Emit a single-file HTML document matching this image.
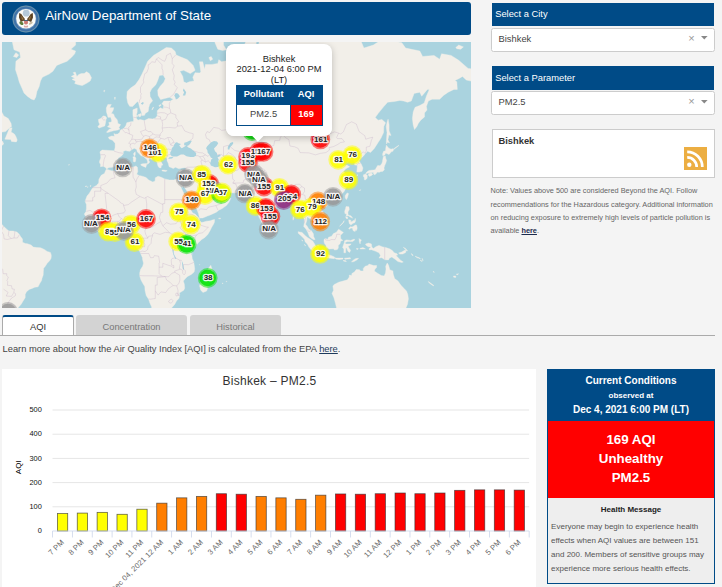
<!DOCTYPE html>
<html>
<head>
<meta charset="utf-8">
<title>AirNow Department of State</title>
<style>
html,body{margin:0;padding:0;}
body{width:722px;height:587px;overflow:hidden;background:#f4f4f4;font-family:"Liberation Sans",sans-serif;position:relative;color:#333;}
.abs{position:absolute;}
#hdr{left:2px;top:2px;width:469px;height:33px;background:#004b87;border-radius:3px;}
#hdr .t{position:absolute;left:43.2px;top:0;line-height:28.6px;font-size:13.33px;color:#fff;white-space:nowrap;}
#map{left:2px;top:42px;width:469px;height:266px;background:#aad3df;overflow:hidden;}
.bar{left:492px;width:222px;height:23px;background:#004b87;color:#fff;font-size:9.33px;line-height:12px;}
.bar span{position:absolute;left:3.2px;top:5px;white-space:nowrap;}
.sel{left:491.4px;width:221.8px;height:22px;background:#fff;border:1px solid #ccc;border-radius:2.5px;font-size:9.33px;line-height:21px;color:#444;}
.sel span{position:absolute;left:6.2px;}
.sel i{position:absolute;font-style:normal;color:#999;}
#cbox{left:491.5px;top:129px;width:221.5px;height:46.8px;background:#fff;border:1px solid #ccc;}
#cbox b{position:absolute;left:6px;top:4.8px;font-size:9.33px;color:#333;line-height:12px;}
#note{left:490.5px;top:183.9px;width:228px;font-size:7.33px;line-height:13.3px;color:#666;white-space:nowrap;}
#note span{position:absolute;left:0;white-space:nowrap}
#note a,#learn a{color:#1c2b4d;font-weight:bold;text-decoration:underline;}
.tab{top:315px;height:19.5px;background:#d3d3d3;border-radius:3px 3px 0 0;font-size:9.33px;line-height:24px;text-align:center;color:#777;}
#tab1{left:2px;width:70px;background:#fff;border:1px solid #aaa;border-top:2px solid #004b87;border-bottom:none;height:18.5px;color:#333;line-height:20px;}
#tabline{left:0;top:335px;width:715px;height:1px;background:#aaa;}
#learn{left:2.5px;top:343px;font-size:9.33px;line-height:12px;color:#444;white-space:nowrap;}
#learn a{font-weight:normal;color:#1d3a5c;}
#chart{left:2px;top:369px;width:533.5px;height:218px;background:#fff;}
#cond{left:547px;top:369px;width:166px;height:212.5px;border:1px solid #004b87;background:#eee;}
#cond .h{position:absolute;left:0;top:0;width:166px;height:51px;background:#004b87;color:#fff;text-align:center;font-weight:bold;}
#cond .r{position:absolute;left:0;top:51px;width:166px;height:77px;background:#ff0000;color:#fff;text-align:center;font-weight:bold;font-size:13.33px;line-height:19.2px;}
</style>
</head>
<body>
<div id="hdr" class="abs"><svg style="position:absolute;left:9.65px;top:2.5px" width="28" height="28" viewBox="0 0 28 28">
<circle cx="14" cy="14" r="13.6" fill="#3f72a8"/><circle cx="14" cy="14" r="13" fill="none" stroke="#8fb0ad" stroke-width="0.7" stroke-opacity="0.75"/>
<circle cx="14" cy="14" r="10.5" fill="#6b93bd"/>
<circle cx="14" cy="13.8" r="9.8" fill="#fbfbf7"/>
<circle cx="14.2" cy="8.2" r="3.4" fill="#b5c9d9"/>
<path d="M12.4 15.6L8.8 17L7 12.6L7.2 7.9L9.3 9.1L11.3 12L13 13.9Z" fill="#5d4324"/>
<path d="M15.6 15.6L19.2 17L21 12.6L20.8 7.9L18.7 9.1L16.7 12L15 13.9Z" fill="#5d4324"/>
<path d="M9 10.5L11.8 14.2L10 14.8Z M19 10.5L16.2 14.2L18 14.8Z" fill="#9a7a45"/>
<ellipse cx="9.4" cy="18.2" rx="2.3" ry="1.5" transform="rotate(35 9.4 18.2)" fill="#5f7d3c"/>
<ellipse cx="18.8" cy="18.2" rx="2.2" ry="1.1" transform="rotate(-35 18.8 18.2)" fill="#cdbda2"/>
<path d="M12.1 15.2h3.8v3.3q-1.9 2-3.8 0z" fill="#cc7873"/>
<rect x="12.1" y="14.9" width="3.8" height="1.1" fill="#34506a"/>
<circle cx="14" cy="13.9" r="1.25" fill="#fff"/>
<path d="M12.3 20.3q1.7 1.6 3.4 0l.5 1.6q-2.2 1.2-4.4 0z" fill="#dba9a8"/>
</svg><div class="t">AirNow Department of State</div></div>
<div id="map" class="abs"><svg width="469" height="266" viewBox="0 0 469 266" style="position:absolute;left:0;top:0" font-family="Liberation Sans, sans-serif">
<rect width="469" height="266" fill="#aad3df"/>
<path d="M9.1 -6.2L11.0 3.1L12.0 7.8L17.7 10.1L18.6 15.6L13.9 19.3L13.5 27.8L15.8 34.8L17.3 40.2L19.9 46.1L22.0 51.0L25.3 54.2L29.1 56.9L32.1 58.0L33.8 54.9L34.9 49.4L37.2 44.5L38.5 38.9L40.4 35.3L44.0 33.5L47.1 32.1L50.9 29.3L54.7 23.4L59.4 21.4L65.1 19.3L69.8 15.1L72.7 11.8L73.6 9.0L68.9 7.3L73.6 3.1L73.6 -6.2Z M69.3 34.4L72.7 32.5L71.1 30.7L73.2 30.0L74.9 34.4L76.8 32.5L79.3 31.6L82.1 31.6L84.6 29.7L87.3 31.6L89.5 35.8L88.2 38.9L85.0 41.1L80.3 43.6L76.5 42.8L72.7 41.5L73.6 39.3L70.0 37.3L73.0 36.2Z M2.9 97.2L6.3 89.0L7.6 86.3L10.1 85.7L9.1 89.9L12.4 92.0L13.9 94.6L15.2 98.0L14.3 99.9L9.5 99.4L8.8 97.4Z M-7.9 57.2L-7.0 56.1L-3.2 63.5L-0.9 68.8L1.9 73.9L6.3 76.6L9.1 81.4L9.5 84.5L7.2 86.3L3.5 89.6L-1.3 90.2L-7.9 89.9Z M-7.9 108.5L-5.1 105.9L-0.3 103.8L1.7 101.9L0.6 99.1L-2.2 102.1L-7.9 103.2Z M-7.9 179.3L-2.2 179.9L-0.3 182.2L1.6 184.2L4.4 187.0L6.9 188.9L11.0 189.1L14.8 189.9L17.3 192.2L18.6 194.6L20.5 197.1L20.5 200.3L23.4 201.5L25.3 201.7L29.1 203.0L31.3 205.1L34.7 205.6L38.5 205.8L42.3 207.4L45.2 209.4L48.4 210.4L49.2 212.7L49.3 214.2L49.0 216.5L47.6 218.8L45.2 221.3L43.3 224.2L41.6 226.2L41.4 229.1L41.2 233.1L40.1 236.0L39.5 238.7L38.0 241.1L36.1 244.8L32.8 245.2L30.0 246.4L27.2 247.4L24.3 249.9L23.2 252.5L23.2 255.7L21.1 258.9L19.2 262.2L16.7 265.1L13.9 269.0L9.1 271.3L-7.9 271.3Z M103.6 80.4L104.0 77.5L104.7 75.9L103.4 74.3L101.1 73.9L99.2 76.2L96.4 77.5L96.7 80.1L97.7 82.3L95.8 84.8L97.1 86.0L99.8 85.1L102.8 83.9Z M105.5 90.5L108.7 89.6L111.5 88.7L115.7 88.1L118.0 86.9L116.7 86.0L118.6 82.6L115.9 81.4L115.7 79.5L115.0 77.5L112.7 74.9L111.5 71.9L109.3 71.6L111.2 68.1L111.7 65.7L107.7 65.7L109.3 62.4L105.9 62.4L104.3 66.0L104.5 69.9L105.5 73.3L106.0 75.3L108.7 75.3L109.6 78.2L109.5 80.1L106.8 80.4L107.4 82.9L105.5 84.8L108.7 86.0L109.6 86.6L107.2 87.2L104.5 90.2Z M164.3 5.5L157.1 10.1L151.4 13.4L145.7 19.3L142.8 25.9L140.0 32.1L137.1 37.6L133.3 42.8L128.6 46.1L125.2 49.4L124.8 55.7L125.8 61.0L127.7 64.3L130.5 64.6L133.3 61.7L135.4 59.5L136.6 61.0L137.7 65.7L139.6 70.9L139.8 73.6L142.5 73.3L143.4 71.2L146.2 69.5L146.8 65.3L147.8 62.1L150.6 58.8L148.1 54.6L147.9 50.6L149.5 47.0L153.8 42.8L155.7 38.4L157.4 33.5L161.2 33.0L163.3 36.7L161.8 40.2L158.0 44.5L155.7 48.2L156.1 53.4L158.6 57.6L162.7 56.5L167.5 55.3L171.3 57.2L168.4 59.1L161.8 59.1L159.9 61.7L161.6 63.5L161.2 67.1L158.2 65.7L155.3 68.8L155.2 73.9L153.3 76.2L150.6 76.9L146.6 76.6L142.5 78.5L138.1 77.5L136.0 78.2L134.3 76.2L134.1 73.9L135.2 69.9L135.2 66.0L130.9 67.8L130.9 72.9L131.6 77.2L131.5 79.5L128.6 79.8L124.8 80.7L123.9 83.6L122.0 86.3L120.1 87.2L118.4 88.1L117.8 90.2L115.7 92.0L113.1 92.3L111.9 91.4L112.5 94.3L109.6 94.0L106.4 95.2L107.2 96.9L110.6 98.3L113.1 101.3L113.1 105.6L112.3 108.8L108.1 108.5L104.3 108.3L100.2 108.0L97.9 109.8L98.6 112.7L98.8 116.0L97.5 119.2L97.5 120.6L98.6 122.6L98.5 124.7L101.3 124.2L103.4 125.4L104.7 127.1L107.0 125.4L111.2 125.2L114.0 123.3L115.5 120.6L114.8 118.7L116.9 115.5L119.5 113.9L121.4 111.7L121.2 109.6L123.3 108.5L125.6 109.1L127.8 109.3L129.6 107.8L132.2 106.2L134.7 107.5L135.2 109.8L137.5 111.9L139.0 113.7L141.5 114.4L142.5 115.5L144.9 117.4L145.7 119.9L145.1 122.3L146.6 121.4L147.8 119.9L146.6 118.2L147.6 116.2L150.2 117.7L149.8 116.0L147.4 114.7L145.7 112.7L143.8 112.4L141.9 110.4L140.9 108.3L138.8 106.7L138.7 103.8L141.1 102.7L141.1 104.6L142.8 104.0L144.2 106.7L146.6 108.5L149.7 110.9L152.1 112.9L152.1 116.0L153.3 118.2L155.2 120.6L155.7 123.3L156.7 125.2L158.0 125.9L159.1 125.7L159.3 123.5L160.8 123.0L160.1 121.6L158.8 119.2L158.4 116.5L160.5 117.4L161.6 115.5L164.6 115.5L165.0 116.9L165.0 118.7L166.2 121.1L167.1 124.7L169.0 125.4L171.3 126.6L173.4 125.2L177.0 126.8L179.8 126.1L182.7 125.7L184.0 125.7L183.4 128.2L182.7 131.9L181.5 135.1L180.4 137.8L178.9 138.2L176.6 137.8L177.2 140.7L178.9 143.9L180.4 145.4L181.3 141.7L182.1 145.0L185.1 149.2L187.4 153.4L189.7 158.6L192.1 162.6L195.0 167.6L196.5 171.6L197.4 175.5L197.8 176.1L200.7 175.9L205.4 174.1L208.3 172.9L214.3 170.2L216.8 168.2L220.2 166.6L224.4 163.6L226.8 160.6L228.7 156.5L226.5 154.3L223.4 153.0L222.3 151.3L222.1 148.6L220.2 150.7L218.3 152.8L213.6 153.2L213.2 149.7L211.7 150.1L210.5 148.4L207.9 145.6L206.5 142.2L207.7 140.0L210.1 140.4L211.7 142.8L214.9 146.1L218.7 148.0L222.1 146.9L223.8 149.7L227.2 150.5L232.0 150.9L236.7 150.7L241.6 150.5L242.4 151.8L244.3 153.8L245.8 155.1L248.1 156.1L246.2 156.9L248.1 159.6L250.9 160.0L252.6 158.6L253.2 159.6L253.4 163.6L254.3 167.6L255.7 171.6L257.2 175.5L259.1 179.0L260.4 182.2L262.3 184.9L263.6 183.4L265.3 182.6L266.8 180.7L266.8 177.4L267.6 175.3L267.4 171.0L269.9 169.0L271.8 167.6L274.6 164.8L277.5 162.0L280.1 160.0L281.3 158.4L283.2 158.2L286.0 157.6L288.8 156.5L290.2 159.6L293.2 162.6L294.3 166.6L294.2 169.6L296.4 170.0L299.3 168.0L300.6 169.6L300.8 172.5L302.3 177.4L302.3 181.3L301.7 184.5L304.0 187.0L305.7 190.1L307.4 194.6L309.7 196.5L311.8 197.7L313.1 197.5L311.6 194.6L311.4 191.8L309.3 188.6L306.9 187.2L305.2 184.2L303.6 182.2L304.8 178.4L305.0 174.7L306.9 176.1L309.7 177.4L310.7 179.0L313.7 180.5L314.1 183.8L317.7 180.5L319.2 180.3L322.4 178.4L322.6 174.5L321.8 171.0L319.6 168.2L317.3 165.2L316.0 162.6L317.7 160.2L320.1 158.6L323.0 158.6L323.9 161.0L325.1 159.2L327.7 158.0L330.8 156.9L333.4 155.9L337.2 154.3L340.0 151.8L342.3 149.2L343.8 146.1L346.1 142.4L346.5 138.7L344.6 136.2L343.5 131.7L341.6 129.4L343.5 127.1L347.6 124.7L344.8 123.0L341.0 124.0L338.7 121.1L339.5 119.7L341.9 117.7L345.2 115.2L347.1 116.2L345.2 120.4L348.6 118.2L351.2 117.7L352.9 121.1L352.4 122.8L355.4 123.5L355.2 125.9L354.8 130.1L357.1 130.1L360.1 129.2L360.9 125.9L359.2 122.1L357.1 118.7L359.0 116.2L361.3 114.2L363.2 111.7L365.6 109.3L368.5 110.4L372.3 106.4L376.1 100.5L378.9 96.3L381.6 90.5L381.8 84.5L383.5 80.7L379.9 77.5L376.1 78.2L373.2 75.6L376.1 71.6L378.9 68.1L381.8 64.6L385.6 60.2L392.2 59.5L397.9 58.4L401.7 59.1L405.5 60.2L409.3 59.1L412.1 51.4L417.8 50.2L419.7 54.2L425.4 47.4L427.3 47.4L424.4 54.2L422.2 61.0L417.8 63.5L413.1 65.3L411.2 69.9L410.4 76.6L411.2 82.9L412.5 87.5L414.9 84.5L416.3 81.4L418.7 78.2L422.5 74.9L422.5 70.9L425.0 68.1L424.4 64.6L426.3 59.1L430.1 57.2L437.7 57.2L441.5 53.4L446.2 50.2L451.9 47.4L455.3 47.4L454.8 39.8L452.9 38.4L456.7 36.7L460.5 34.4L464.3 38.0L469.9 39.3L472.8 34.4L476.2 31.6L471.8 27.3L466.1 26.4L456.7 18.3L449.1 13.4L439.6 11.8L437.7 17.2L432.0 13.4L420.6 14.5L417.8 9.0L403.6 6.1L399.8 0.7L380.8 -3.0L371.3 3.1L361.9 6.1L358.1 -3.0L342.9 -6.2L329.6 -11.5L314.4 -35.7L280.3 -20.0L268.9 -9.5L267.0 0.1L262.3 -1.7L257.6 -3.0L256.6 3.1L254.7 11.8L255.3 19.8L252.8 18.8L253.4 9.0L254.3 0.1L251.9 -6.2L246.2 -6.2L242.4 3.1L242.0 11.8L245.2 19.8L240.5 18.3L236.7 15.6L230.1 12.9L227.2 18.3L219.6 19.8L216.8 17.7L215.8 21.4L210.1 22.4L203.5 22.4L202.6 27.3L200.7 19.8L197.4 19.8L198.8 29.7L197.8 31.1L193.1 30.7L190.8 35.3L192.1 38.9L187.4 39.8L184.5 41.1L181.7 39.8L180.8 34.4L177.9 29.3L181.7 28.3L188.3 31.6L193.1 28.3L191.2 23.4L185.5 17.7L178.9 15.1L174.1 12.9L173.2 9.5L169.4 6.1Z M176.6 137.8L174.1 137.3L171.8 138.0L167.5 138.0L162.7 136.9L159.3 135.3L156.1 134.2L153.3 135.8L153.1 138.9L150.8 140.0L146.6 138.0L144.2 135.6L140.4 134.2L137.1 133.5L134.7 132.2L135.8 129.4L135.4 125.2L133.9 124.0L131.5 125.0L126.7 125.0L121.0 125.2L116.3 126.8L112.5 128.9L109.6 128.7L105.3 127.5L104.1 127.5L102.4 131.5L99.2 133.3L96.9 137.3L96.7 141.1L94.1 143.7L90.9 145.4L88.8 148.8L87.3 151.3L85.0 154.1L83.1 159.2L84.4 162.6L84.4 166.6L84.0 169.6L82.3 172.1L83.7 174.5L83.7 176.8L85.9 179.3L87.5 180.7L89.7 182.4L90.7 184.3L93.1 187.0L95.0 188.4L98.3 190.8L100.9 192.0L104.9 190.8L107.7 190.5L110.6 190.8L113.4 190.3L116.3 189.3L118.2 188.7L121.8 188.2L123.9 188.6L125.4 190.8L127.1 192.2L129.6 191.8L131.5 191.4L132.8 192.9L133.9 194.6L133.7 196.9L133.2 199.4L132.0 201.7L133.3 204.1L135.2 206.4L137.7 209.3L138.7 211.7L140.4 215.6L140.6 217.5L141.5 221.3L140.7 224.2L138.5 227.5L137.7 231.1L137.7 234.0L139.0 238.0L140.9 241.5L142.8 244.6L143.0 248.3L144.2 253.5L146.6 257.2L147.9 261.1L149.5 264.4L150.2 269.0L152.3 270.8L157.1 269.4L162.7 269.2L166.5 268.5L169.4 266.2L172.8 262.2L174.5 258.9L177.0 256.3L177.7 252.5L177.3 251.0L181.7 248.3L182.7 246.2L182.3 242.1L181.3 239.1L183.2 236.8L185.5 234.4L189.3 232.5L192.1 230.1L192.7 227.1L192.1 222.3L191.8 220.2L190.2 216.5L189.9 213.6L188.9 212.1L189.3 209.8L190.2 208.3L191.8 205.5L194.0 203.6L196.3 200.7L199.7 197.5L202.9 195.4L205.8 192.4L207.9 188.9L209.8 185.1L211.5 182.2L212.4 180.3L212.6 177.6L211.1 177.8L208.3 178.8L204.5 179.2L201.6 180.1L199.7 180.5L197.4 178.4L197.3 176.6L195.5 174.5L193.1 172.1L190.6 171.0L189.3 168.6L188.0 165.6L186.3 163.6L185.7 159.6L185.1 157.6L182.8 153.6L181.3 150.3L179.6 146.7L177.2 140.9L177.0 138.5Z M208.8 223.3L210.5 229.1L211.1 230.9L209.8 232.9L209.0 235.0L207.9 239.1L206.4 244.1L204.6 249.1L201.0 250.4L198.8 248.3L197.6 244.1L198.4 241.1L199.5 238.7L198.8 235.0L199.5 231.7L202.6 230.5L205.0 228.7L206.4 226.6L207.9 224.4Z M266.8 181.9L268.6 183.2L270.5 186.1L270.3 188.0L268.2 189.0L267.0 188.4L266.7 186.1L266.7 184.2Z M296.1 189.7L300.2 190.5L302.5 193.1L305.5 195.6L307.8 196.9L310.7 199.0L312.2 201.3L313.5 203.7L316.3 206.0L316.0 211.4L313.7 211.4L309.3 207.9L306.9 205.1L305.5 202.2L303.1 199.8L302.5 197.3L299.7 194.3L296.4 191.4Z M314.8 213.3L316.5 211.5L319.2 212.1L321.3 213.1L324.9 213.4L325.8 212.5L329.0 213.4L332.5 215.0L332.3 216.7L328.7 216.3L323.9 215.7L320.1 215.2L317.1 214.4Z M332.5 215.7L334.7 216.1L336.6 216.1L341.0 216.1L341.0 217.1L337.2 217.5L333.8 217.1Z M342.5 216.3L348.2 215.7L348.6 216.7L342.9 217.3Z M349.5 220.0L351.4 217.9L353.9 216.5L356.5 216.3L355.2 217.7L352.0 219.6Z M341.0 218.4L343.5 218.6L344.4 219.6L341.9 219.2Z M322.0 197.5L323.2 196.5L325.8 197.3L326.6 195.2L329.6 194.3L331.5 191.6L334.4 190.3L336.6 187.2L338.5 188.4L341.4 190.5L339.5 192.2L338.5 193.5L338.7 196.5L340.8 198.4L338.7 199.0L338.1 201.7L336.3 203.2L336.3 206.0L335.3 207.5L332.6 208.1L331.5 206.8L327.3 207.0L324.3 205.8L323.9 203.2L322.4 201.3L322.0 199.4Z M342.5 198.8L344.4 197.9L348.6 198.4L352.2 197.1L352.7 197.9L350.5 199.6L345.7 199.4L343.3 200.3L343.5 202.0L345.7 202.0L349.1 201.9L348.2 203.2L346.1 203.9L347.3 206.6L348.6 208.3L347.6 210.4L345.9 209.3L344.8 206.0L343.8 206.0L343.6 210.8L341.9 210.8L341.9 207.0L340.6 205.5L341.6 202.6L342.5 200.3Z M357.1 196.5L358.1 197.5L359.4 197.9L358.4 199.8L358.1 201.9L357.3 199.4Z M357.9 206.4L360.9 205.6L363.4 206.8L360.9 207.0L358.1 207.0Z M363.7 201.9L366.6 201.1L369.4 201.9L369.8 205.1L371.3 206.6L374.2 204.5L377.0 203.4L380.8 204.9L383.7 205.5L387.5 206.8L390.3 208.5L392.2 210.8L395.0 211.7L395.6 213.1L393.9 213.4L396.0 215.6L398.8 218.4L401.3 220.0L399.8 220.5L396.0 219.6L393.1 217.3L389.9 215.0L387.5 215.9L386.5 217.9L382.7 217.7L379.9 215.7L377.0 216.1L378.5 213.6L377.0 210.8L373.2 209.1L369.4 207.7L367.2 207.9L367.2 206.6L369.1 204.9L366.2 204.7L363.7 203.0Z M396.6 211.0L399.8 210.0L402.6 208.3L404.1 208.5L403.6 210.6L400.7 212.1L397.9 212.1Z M401.3 205.3L403.6 206.4L405.5 208.7L404.9 209.1L402.6 206.6Z M409.3 211.4L411.2 213.3L410.2 213.4Z M413.1 214.2L417.8 216.1L418.4 216.7L414.9 215.6Z M418.0 218.0L420.3 219.2L419.3 219.2Z M420.1 216.3L421.2 218.4L420.6 218.4Z M330.9 244.3L331.9 242.7L336.6 240.3L341.0 239.1L345.4 237.8L347.3 235.0L347.3 233.1L349.7 233.6L349.9 231.5L352.4 230.1L354.3 227.5L357.5 227.7L358.6 228.9L361.3 229.1L361.3 226.4L363.2 224.2L366.0 223.6L367.0 222.1L371.7 223.6L374.7 223.6L374.4 225.8L373.0 227.0L372.3 229.1L375.1 230.9L379.3 233.6L382.1 234.0L383.5 231.1L384.0 227.1L383.7 224.2L385.2 221.1L386.5 223.1L387.8 227.7L390.9 228.9L391.2 232.1L392.6 236.6L396.0 239.1L398.8 243.1L401.3 245.8L404.5 248.9L405.8 252.5L406.4 256.8L405.5 262.2L403.6 266.7L401.7 270.1L399.8 276.0L329.6 276.0L334.7 266.7L333.4 261.1L331.9 255.7L330.0 251.4L331.5 248.3Z M345.9 150.9L346.5 151.8L345.5 155.5L344.4 157.6L343.3 155.9L343.1 153.8L344.6 151.6Z M321.5 163.2L323.0 161.6L325.6 161.6L324.9 164.0L323.2 165.2L321.5 164.6Z M344.0 164.6L346.9 164.8L347.3 167.6L345.9 170.0L346.1 172.9L349.1 173.9L350.7 176.2L349.1 175.5L347.8 174.7L346.3 173.7L344.2 173.9L344.6 172.1L342.9 171.6L342.7 169.2L343.6 166.6Z M343.6 174.7L345.5 174.9L345.7 176.4L345.0 177.0L344.2 176.2Z M337.6 184.3L340.2 181.9L341.9 180.1L342.1 178.6L341.2 180.3L339.1 182.6Z M346.7 177.8L348.8 178.2L348.8 180.1L350.5 179.3L351.2 178.4L352.4 178.8L353.3 176.4L353.5 179.0L352.7 180.7L351.0 181.3L349.7 182.4L348.6 182.8L347.4 181.7L346.9 180.1Z M346.7 186.6L348.2 184.7L350.1 184.9L351.8 184.0L353.3 183.0L354.6 183.2L355.2 186.1L354.6 188.2L353.7 188.7L353.1 187.2L353.1 189.5L351.0 188.6L350.5 186.3L349.0 186.1L347.1 187.2Z M361.5 132.8L363.7 131.9L365.3 133.5L365.1 136.2L363.7 137.8L362.4 137.8L362.2 135.6L361.3 134.2Z M366.6 131.7L369.4 131.0L370.8 132.2L369.8 133.3L367.5 134.4L366.4 133.3Z M363.7 131.7L366.0 131.0L368.5 130.8L371.3 130.3L371.7 132.2L372.9 132.8L374.7 131.0L375.1 130.1L377.4 130.3L378.9 129.4L380.4 129.6L382.3 128.0L382.0 125.9L382.7 123.5L383.8 121.1L384.6 118.4L383.7 116.2L383.3 113.9L381.4 114.4L380.8 117.4L380.4 119.9L379.7 121.8L378.0 123.8L375.7 123.5L374.6 125.2L373.2 127.8L371.7 128.0L369.4 128.2L367.0 128.5L364.7 130.1Z M380.8 113.7L382.7 112.9L383.7 111.1L387.1 112.4L389.3 109.8L391.2 109.1L390.9 106.7L389.0 107.2L386.5 105.9L384.4 103.2L383.8 105.9L383.5 108.8L381.6 109.3L380.6 111.9Z M384.6 101.9L385.6 99.9L387.5 101.0L385.9 97.7L386.9 92.9L389.0 93.4L387.1 89.0L387.1 82.9L386.1 77.2L385.2 79.8L384.2 84.5L385.0 90.5L384.6 96.3L384.4 99.9Z M391.4 107.8L396.9 103.5L396.4 103.5L391.1 107.2Z M477.5 29.7L479.4 34.4L483.2 38.9L491.7 39.3L492.7 44.1L486.1 45.3L484.2 51.4L488.9 58.0L490.8 62.1L498.4 61.7L504.1 59.1L513.6 53.4L513.6 -6.2L477.5 -6.2Z M485.1 75.6L490.8 72.3L498.4 66.4L498.4 64.6L492.7 69.5L487.0 74.3Z M472.4 44.1L476.6 42.4L477.9 44.9L474.7 45.3Z M481.3 56.5L484.2 56.1L483.2 58.0Z M213.0 0.7L215.8 7.3L220.6 8.4L224.4 7.8L221.5 3.1L221.5 -6.2L212.0 -6.2Z M206.9 15.6L209.2 14.5L210.7 17.2L208.3 18.8Z M159.9 128.2L161.8 128.1L165.2 128.7L163.7 129.5L160.1 128.9Z M176.6 129.4L177.9 128.5L180.9 127.8L179.8 129.4L177.9 130.3Z M138.8 122.3L140.9 121.8L144.9 121.6L144.0 124.7L143.8 125.4L140.9 124.2L139.0 123.3Z M130.9 114.9L132.8 114.4L133.9 116.2L133.5 119.4L132.4 119.9L131.3 119.4L131.3 116.5Z M131.6 111.4L133.2 109.8L133.3 112.4L132.8 113.9L131.8 113.2Z M119.9 118.4L121.2 117.7L121.8 118.4L121.0 119.2Z M136.2 72.6L139.0 71.6L139.2 73.3L138.1 74.9L136.6 74.3Z M133.9 73.3L135.6 73.3L135.6 74.6L134.3 74.6Z M149.8 67.8L151.2 65.0L151.6 65.3L150.6 67.4Z M156.9 63.5L158.9 62.4L159.3 63.2L157.4 64.6Z M216.6 176.2L218.7 176.2L218.3 176.8L216.8 176.7Z M66.4 123.0L67.5 122.8L67.4 122.6Z M83.3 144.3L84.6 143.9L84.0 145.0Z M85.4 145.0L86.1 144.8L85.9 145.4Z M88.2 143.7L89.0 143.5L88.4 144.8Z M291.3 174.5L291.7 176.4L291.1 178.2L290.9 176.4Z M101.5 49.0L102.8 48.2L102.4 49.8Z M112.5 55.3L113.4 55.3L112.9 57.6Z M220.2 241.1L221.1 241.3L220.6 241.8Z M224.2 239.3L224.9 239.5L224.4 240.1Z M197.4 222.5L197.8 222.7L197.6 223.1Z M189.7 211.4L190.2 211.7L190.0 212.5Z M315.0 203.6L316.7 203.4L317.7 205.8L316.2 205.3Z M299.7 197.9L301.0 199.0L300.4 199.0Z M302.5 202.2L303.6 203.7L302.9 203.6Z M354.5 206.4L356.2 206.4L356.0 207.4L354.6 207.2Z M426.3 239.5L429.2 241.5L432.0 243.7L431.1 243.7L427.3 241.1Z M431.3 229.1L432.4 230.3L431.6 230.3Z M451.5 234.0L453.8 234.0L453.8 235.4L451.7 235.2Z M454.2 232.3L456.5 231.7L455.7 232.7Z M453.8 5.5L456.7 3.1L461.4 4.9L458.6 7.3L454.8 6.7Z M357.5 148.8L358.4 147.6L358.6 147.8L357.7 149.0Z M354.6 133.3L356.0 132.8L355.8 133.3L354.8 133.5Z M11.4 14.5L13.9 10.7L16.7 12.9L14.8 15.6Z" fill="#f2efe9" stroke="#f2efe9" stroke-width="0.4" stroke-linejoin="round"/>
<path d="M168.4 112.7L169.9 114.2L171.3 114.4L175.1 114.4L178.9 112.4L181.7 112.4L184.5 114.2L188.3 114.9L191.6 114.9L194.0 113.7L194.2 111.1L191.2 108.5L188.9 106.4L186.4 105.4L184.9 104.0L186.4 103.5L188.0 101.9L189.9 98.8L187.4 98.8L184.9 99.9L182.3 100.8L182.1 103.2L184.2 103.5L182.7 104.6L179.8 106.2L178.9 105.6L177.2 103.5L179.0 102.1L176.4 101.3L175.1 100.2L173.7 100.5L172.2 102.4L171.5 104.6L169.9 105.9L169.4 108.5L168.2 110.4Z M166.0 116.5L167.5 115.2L170.1 114.9L171.5 115.6L169.9 116.5L167.5 116.7Z M208.8 123.5L210.7 124.2L213.0 125.2L215.8 125.0L217.7 124.0L217.4 121.1L216.2 119.2L216.8 117.4L215.5 115.5L217.4 114.4L218.9 113.7L217.4 112.4L215.3 113.4L214.9 111.1L213.0 109.3L212.0 106.4L214.9 103.5L216.2 101.3L214.9 99.4L212.0 99.1L209.2 100.2L207.3 101.9L205.0 104.6L204.1 106.2L205.4 108.5L205.6 110.4L207.5 112.9L208.8 115.5L210.7 116.5L209.2 117.4L208.8 119.4L208.1 121.1Z M225.7 107.2L227.2 107.8L228.2 105.1L230.1 103.2L231.4 101.0L230.6 99.9L228.2 101.0L226.8 103.2L225.9 104.6Z M254.7 104.6L256.2 101.0L259.5 99.7L263.2 100.2L265.7 100.2L264.2 101.0L260.4 100.8L257.6 101.3L256.0 104.8Z M312.2 85.7L314.1 86.3L316.3 83.6L320.1 79.8L323.5 74.9L323.4 72.3L321.5 74.9L319.2 79.2L316.3 81.7L313.5 84.5Z M175.6 200.7L177.5 199.8L179.8 200.0L180.2 202.2L178.9 204.7L177.0 205.3L175.6 204.1Z M170.7 206.8L171.7 208.9L171.8 211.7L173.7 215.6L174.3 216.9L173.2 216.7L171.1 212.1L170.5 208.9Z M179.8 218.6L180.9 221.3L181.5 224.2L182.1 227.5L181.1 227.5L180.4 224.2L180.0 221.3Z M173.9 57.6L176.0 56.5L177.9 54.2L176.0 51.4L173.7 51.0L172.2 53.4L173.2 55.3Z M180.8 53.4L183.2 53.4L184.2 50.2L181.7 46.6L180.9 48.6L182.1 50.2Z M138.8 61.4L140.9 59.9L141.9 61.0L140.4 62.8Z M259.8 111.4L262.3 110.5L263.8 110.9L262.3 111.9Z M183.6 191.8L184.4 193.7L184.9 195.6L184.2 195.4L183.2 192.7Z" fill="#aad3df"/>
<path d="M162.7 137.1L162.7 157.6L185.3 157.6 M162.7 157.6L162.7 161.6L160.8 161.6L160.8 162.6L145.7 154.5L143.8 155.5L142.3 156.3L138.1 154.5L134.3 152.4L133.3 148.2L134.3 145.0L133.9 140.0L134.9 136.9L137.1 133.5 M133.9 140.0L131.1 135.1L130.9 129.4L131.6 125.0 M111.2 129.2L112.1 132.8L113.1 135.8L108.7 136.9L104.9 141.1L98.8 143.5L98.8 146.5 M98.8 145.6L90.3 145.6 M98.8 146.5L98.8 149.2L92.6 149.2L92.6 154.7L90.7 155.5L90.7 159.0L83.1 159.0 M98.8 146.5L106.2 151.3L117.6 159.4L118.7 161.0L121.4 162.0L121.6 163.6L123.3 163.2L126.3 162.6L129.6 160.0L138.1 154.5 M106.2 151.3L103.0 151.3L104.9 168.6L105.3 170.6L97.3 170.8L93.5 170.4L92.2 172.0L89.7 169.2L87.8 168.4L84.4 169.4 M121.6 163.6L123.3 168.6L122.0 170.8L117.2 171.6L115.7 171.6L111.5 173.1L108.7 174.9L106.8 176.1L105.3 177.8L104.9 180.5L103.6 180.3L100.2 180.9L99.6 179.3L98.3 176.6L93.7 176.6L92.2 172.0 M93.7 176.6L89.4 176.2L83.7 176.6 M83.5 174.3L86.9 173.9L89.2 174.7L86.9 175.1L83.5 175.3 M89.4 176.2L89.4 178.0L86.9 179.3 M90.1 183.2L94.5 181.3L95.8 184.2L93.5 187.2 M95.8 184.2L99.2 185.9L100.2 180.9 M99.2 185.9L101.1 192.0 M104.9 180.5L110.2 182.0L109.5 190.6 M110.2 182.0L110.0 179.3L115.3 179.3L116.3 185.1L117.6 188.7 M115.3 179.3L117.0 179.3L118.4 183.2L118.4 188.6 M115.7 171.6L117.2 174.9L119.5 176.6L117.0 179.3 M119.5 176.6L122.2 178.0L120.5 183.2L120.5 188.2 M122.2 178.0L122.9 174.5L128.6 175.5L132.4 175.9L138.1 175.1L141.1 174.1L140.9 172.5L144.7 167.8L144.7 161.6L143.8 155.5 M141.1 174.1L142.3 176.4L140.4 181.3L137.1 187.0L133.3 188.4L131.6 191.2 M142.3 176.4L143.8 179.3L144.7 181.5L141.9 181.7L144.2 186.1L150.4 185.1L155.2 181.7L158.8 179.5 M160.8 162.6L160.8 170.2L158.8 170.6L157.4 175.5L158.8 179.5L160.8 183.8L167.5 190.8 M160.8 183.8L164.6 180.7L168.4 182.2L174.1 181.7L177.0 177.4L178.3 177.0L178.3 180.9L179.8 182.2L180.4 179.9L181.7 177.4L183.8 176.1L184.5 172.9L185.5 167.6L188.5 165.6 M184.5 172.9L187.4 172.1L191.2 172.5L193.1 174.5L195.7 176.4L194.6 179.3L196.9 179.3L196.7 180.3L198.8 183.2L204.5 185.1L206.4 185.1L200.7 190.8L196.9 191.4L194.8 192.9L190.2 193.9L187.4 193.5L183.6 192.0L182.3 190.1L179.8 188.0L177.9 185.5L179.8 184.0L179.8 182.2 M194.8 192.9L193.1 195.0L193.1 201.9L194.0 203.6 M182.3 190.1L179.8 192.4L180.8 193.7L181.7 197.1L179.8 199.8L179.6 202.2L186.6 206.0L189.7 209.3 M179.8 192.4L174.1 193.3L173.7 193.7L167.5 190.8L163.3 190.3L158.0 192.4L152.3 190.8L150.6 192.2L150.6 193.7L149.5 196.5L149.1 201.3L146.1 204.5L145.5 207.7L143.0 209.6L140.2 209.1L138.1 209.8 M144.2 186.1L142.8 188.9L143.8 192.7L145.9 196.2L146.6 194.3L150.6 193.7 M133.9 196.0L136.8 196.2L140.6 196.2L145.9 196.2 M133.9 198.4L136.8 198.4L136.8 196.2 M140.6 196.2L142.6 197.9L141.7 200.3L142.8 202.2L142.6 204.7L139.0 204.7L137.5 206.0L136.4 207.7 M173.7 193.7L174.7 196.2L172.0 198.8L171.5 203.0L170.3 205.5L170.9 208.7 M171.5 202.2L173.2 202.2L179.6 202.2 M170.3 205.5L173.2 204.9L173.7 202.4 M170.9 208.7L173.7 206.6L173.2 204.9 M173.5 215.9L170.1 216.5L169.2 218.0L169.6 223.1L171.8 223.6L171.8 226.0L169.0 224.0L166.5 223.3L160.8 221.3L160.8 225.2L157.1 225.2L157.1 221.3L157.6 220.4L156.7 214.2L152.3 213.6L151.4 215.6L148.5 215.7L146.8 211.5L140.0 211.5L138.5 211.4 M173.5 215.9L177.7 218.2L179.8 218.4 M181.5 222.5L186.4 222.7L191.9 220.4 M177.7 218.2L178.5 221.3L177.3 226.4L178.3 227.1L172.6 229.1L173.0 230.3L170.1 231.1L166.5 234.8L163.3 234.6 M157.1 225.2L157.1 231.5L159.7 234.2L163.3 234.6 M137.7 233.6L141.9 233.8L150.4 233.8L159.7 234.2 M163.3 234.6L155.2 235.6L155.2 243.1L153.3 243.1L153.3 256.5L148.5 257.2L146.6 257.0 M153.3 248.9L156.1 253.1L158.9 249.9L163.7 250.6L166.5 246.6L171.1 243.5 M163.3 234.6L164.6 238.0L167.9 240.1L171.1 243.5L174.7 243.9 M174.7 243.9L177.0 241.1L177.9 238.0L177.7 233.1L174.1 231.1L173.0 230.3 M174.7 243.9L176.0 248.3L176.0 253.1L177.7 253.3 M166.5 259.1L169.4 257.0L171.1 258.9L169.4 261.1L167.5 260.9L166.5 259.1 M174.1 251.0L176.0 251.4L176.2 253.5L174.1 254.0L173.7 252.5L174.1 251.0 M181.5 222.5L180.9 226.2L183.4 228.9L183.2 231.5L182.1 232.9L180.6 231.1L180.8 228.3L178.3 227.1 M180.4 137.8L181.5 141.7L182.7 137.3L182.8 134.7L185.1 135.6L188.9 133.1L189.7 135.8 M181.9 133.8L183.2 133.3L182.8 134.7 M183.2 133.3L184.7 131.2L183.6 130.3 M181.5 142.0L183.8 142.4L186.4 140.7L187.4 139.6L185.5 137.3L189.7 135.8L191.9 136.4L195.0 138.2L200.1 142.4L203.5 142.6L205.4 142.8L207.1 143.9 M203.5 142.6L204.5 140.7L206.4 140.7 M188.9 133.1L193.1 130.8L193.5 125.9L195.7 124.5 M183.6 127.1L184.9 125.2L187.4 125.2L191.2 125.2L195.7 124.5L200.3 124.2L198.8 118.9L200.3 118.2L198.0 115.2L197.8 114.7L195.9 113.7L194.0 113.7 M191.2 108.8L196.9 110.6L200.7 110.9L203.5 112.9L206.0 114.4L207.5 112.9 M197.8 114.7L200.7 114.2L203.5 112.9 M200.7 114.2L202.6 116.7L203.5 120.1 M200.3 118.2L203.5 120.1L206.4 118.7L208.1 121.4 M200.3 124.2L202.6 127.5L201.6 130.6L202.6 133.5L206.0 136.7L205.8 138.7L207.3 140.7 M217.5 124.0L221.5 122.1L224.0 121.8L227.2 123.5L230.1 125.7L231.4 128.0L230.2 131.0L230.8 137.3L232.5 138.5L230.8 141.1L233.9 142.0L235.2 146.7L234.4 148.0L232.1 150.9 M230.8 141.1L241.1 140.9L241.8 138.0L246.7 136.4L248.1 133.5L250.2 131.7L251.1 126.1L256.6 124.7 M231.4 128.0L234.8 128.5L237.6 126.4L241.4 123.8L244.3 124.7L247.1 123.3L248.5 123.5L250.9 121.6L251.1 125.4L256.6 124.7L257.4 124.2 M196.5 168.8L198.8 166.8L204.5 167.6L206.4 165.2L213.9 163.6L219.6 161.6L221.0 157.6L220.0 156.1 M213.9 163.6L216.0 168.2 M213.2 153.0L215.1 155.7L220.0 156.1L221.1 153.0L221.7 152.0L222.3 151.6 M211.7 152.0L212.6 152.2 M208.3 100.5L207.3 97.7L204.5 96.3L203.5 92.6L205.0 89.6L207.7 90.5L211.7 85.4L216.8 86.3L219.6 88.4L226.3 87.5L232.0 88.1L229.1 83.9L231.0 78.5L238.6 76.9L246.2 73.9L250.0 77.5L254.7 78.2L260.4 77.2L263.1 80.4L267.0 88.1L273.7 87.5L277.5 91.7L280.9 92.9 M280.9 92.9L278.4 94.9L277.8 98.3L272.7 98.6L271.8 103.5L268.0 104.6L267.4 111.9 M267.4 111.9L265.1 110.4L258.9 110.1L255.7 109.3L254.7 111.1L250.0 111.7L249.8 112.4L246.2 114.2L244.3 115.7L241.4 114.4L240.5 110.1L232.9 108.5L226.3 103.2L221.5 104.6L221.5 114.2 M221.5 114.2L223.4 114.2L226.3 110.6L229.1 111.9L232.7 114.7L233.9 117.4L237.6 120.1L241.4 123.8 M221.5 114.2L219.3 112.4L214.9 112.9 M267.4 111.9L263.2 114.9L259.5 116.5L255.1 118.7L257.6 123.8 M255.1 118.7L250.9 118.4L247.1 117.4L249.0 114.9L250.9 112.4 M244.3 124.7L243.9 119.9L247.1 117.4 M244.7 154.1L250.0 152.6L247.3 147.1L251.7 145.0L255.5 140.7L256.8 138.2L255.7 134.0L261.2 130.1L262.9 128.2 M257.4 124.2L262.9 128.2L265.1 131.0L264.2 134.9L265.5 138.5L268.9 140.2L272.7 142.2L278.4 145.0L282.4 145.2L283.7 145.0L285.6 144.6L289.0 145.4L293.6 142.4L297.8 142.2L299.8 144.6 M268.9 140.2L267.2 143.3L273.3 146.3L278.0 148.0L282.4 148.2L282.4 145.2 M283.7 145.0L283.7 146.7L285.6 147.8L290.0 147.3L289.0 145.4 M284.1 158.4L283.7 152.8L282.6 149.7L285.6 149.2L285.6 150.7L290.6 151.3L290.2 152.8L288.3 154.1L289.0 155.7L290.9 159.0L290.4 160.2 M299.8 144.6L295.9 147.8L294.7 150.9L292.3 153.4L292.4 156.5L290.9 159.0 M299.8 144.6L302.5 146.1L302.5 149.7L300.4 152.6L302.9 153.2L303.4 157.3L307.0 158.2L305.2 161.0L301.2 162.2L300.6 164.6L302.5 169.0L301.5 171.2L303.4 176.1L302.3 180.9 M305.2 161.0L305.9 162.6L307.2 162.6L306.9 166.6L309.1 165.2L312.5 165.0L313.9 166.8L314.1 169.2L315.6 170.4L314.8 172.9L310.7 172.9L309.5 174.5L310.5 178.0 M314.8 172.9L319.2 172.1L319.2 176.8L316.3 178.0L316.0 179.3L313.3 180.5 M319.2 172.1L319.0 169.6L314.4 164.2L312.4 163.0L314.3 161.2L310.7 160.0L308.9 156.7L308.2 159.2L307.0 158.2 M308.9 156.7L312.4 156.3L315.0 154.9L317.7 155.9L317.5 157.6L320.1 158.6 M305.2 188.0L307.0 189.5L308.9 188.6 M323.2 196.5L323.9 198.1L327.3 198.4L329.6 197.5L333.0 197.7L334.4 194.6L334.7 192.2L338.3 192.4 M382.7 205.3L382.7 217.7 M280.9 92.9L283.3 95.5L286.9 97.7L287.9 104.0L292.6 104.8L296.2 106.4L298.1 110.6L306.9 110.9L313.5 112.9L318.2 111.4L323.9 110.6L327.5 108.0L327.0 105.6L331.5 104.6L335.3 102.7L338.7 100.5L342.5 99.9L340.0 96.6L335.3 96.6L334.5 95.7L336.6 91.1 M280.9 92.9L285.4 91.1L290.6 88.1L294.5 90.2L301.2 89.3L301.7 84.5L304.0 84.5L309.1 86.6L309.3 88.7L316.3 89.3L320.1 92.3L325.8 92.6L332.5 89.9L336.6 91.1L338.7 92.0L341.4 89.9L344.4 82.6L349.7 79.8L354.3 82.0L357.1 89.6L362.8 93.7L363.7 97.2L367.5 96.0L370.8 95.2L369.4 98.3L367.9 104.3L364.3 105.1L364.3 108.8L363.0 111.4 M363.0 111.4L361.5 109.8L358.1 112.4L356.0 112.9L351.2 117.4 M354.5 123.0L356.2 121.6L358.8 120.9 M137.1 61.0L137.7 57.6L139.0 56.5L138.7 53.4L139.4 51.8L138.5 50.6L138.5 45.3L141.9 40.2L141.3 38.4L142.8 31.6L144.7 30.7L146.4 26.4L146.1 22.9L148.1 21.9L149.7 19.8L153.3 20.3L154.4 16.9L156.5 15.6L160.3 18.3L162.7 19.3L164.1 16.1L164.6 13.4L168.4 11.2L170.3 16.7 M154.4 16.9L160.1 22.9L159.9 26.4L160.8 28.3L161.2 33.0 M173.7 12.9L170.3 16.7L170.1 21.4L172.2 23.9L170.3 27.8L172.2 33.5L171.7 37.6L173.2 40.2L172.2 42.4L175.3 45.7L171.7 52.2L168.1 55.3 M168.4 59.5L167.3 61.4L167.5 66.4L168.1 67.1L168.8 70.9L173.9 72.9L173.9 75.6L177.0 79.8L175.1 80.7L175.6 84.2L179.8 83.6L182.7 89.0L187.4 90.8L191.2 91.7L190.8 96.3L187.8 98.8 M161.6 65.0L164.6 65.3L167.5 66.4 M155.2 71.2L158.9 70.6L162.7 70.9L165.8 72.6L168.8 70.9 M175.6 84.2L173.2 86.0L166.5 85.4L160.1 86.0 M165.8 72.6L163.7 77.2L159.9 78.5 M152.5 76.9L158.6 76.9L159.9 78.5L160.7 82.3L160.1 86.0L160.8 89.0L158.2 92.0L158.2 93.2 M155.3 73.9L158.6 74.9L158.6 76.9 M142.3 78.5L142.6 81.4L143.2 84.5L143.8 87.5L143.4 87.8L146.6 89.6L149.1 89.6L151.0 92.0L153.3 92.9L158.2 93.2 M143.4 87.8L138.5 89.6L140.0 92.6L141.5 94.3L140.0 97.2L135.2 97.7L133.5 97.7 M141.5 94.3L143.8 93.4L147.4 94.6L147.6 96.0L146.1 99.4 M147.4 94.6L151.0 92.0 M147.6 96.0L151.0 96.9L154.2 94.9L157.2 95.2 M158.2 93.2L157.2 95.2L158.8 96.3L162.6 97.2L165.8 95.5L168.8 103.2L171.7 103.8 M165.8 95.5L168.4 95.5L170.7 97.7L172.2 100.8L170.1 100.8L168.8 103.2 M158.8 96.3L155.2 101.3L153.8 101.6L155.9 105.1L158.0 105.9L158.4 106.7L161.8 108.0L166.5 107.0L169.6 108.0 M146.1 99.4L146.6 100.8L148.5 102.1L151.2 102.1L153.8 101.6 M151.2 102.1L151.4 104.8L152.1 106.4L151.7 108.5L153.8 110.4L154.4 112.7 M158.4 106.7L157.8 110.4L158.9 114.2L161.8 113.7L165.2 113.2L165.8 114.2L164.6 115.5 M165.2 113.2L168.4 112.4 M153.3 118.2L155.2 115.5L158.9 114.2 M152.1 112.7L154.2 111.9L154.4 112.7L155.2 115.5 M153.8 110.4L156.7 111.7L157.8 110.4 M141.1 103.2L144.3 103.2L146.6 100.8 M145.1 104.0L147.4 104.0L151.4 104.8 M145.1 104.0L146.1 106.7L148.7 109.8L150.4 111.1L151.7 108.5 M133.5 97.7L133.5 99.1L135.2 99.7L138.5 99.1L141.3 100.5L146.1 99.4 M141.3 100.5L140.9 102.7 M133.5 97.7L131.5 97.2L129.7 97.4L126.7 101.3L128.6 102.1L131.5 101.0L132.4 102.1L135.2 99.7 M128.6 102.1L128.0 104.3L129.7 107.0L129.6 107.8 M129.7 97.4L130.9 93.4L127.5 92.0L124.4 90.5L123.3 90.8L120.1 87.2 M127.5 92.0L126.9 88.4L126.7 85.1L128.6 83.6L129.0 80.4 M121.8 86.6L124.8 86.3L126.3 87.2L126.9 88.4 M131.6 75.3L134.1 75.6 M111.9 109.1L116.7 110.6L121.4 111.4 M98.6 112.7L102.8 112.7L103.6 113.7L102.1 117.4L101.3 122.3L101.3 124.2 M101.5 74.9L100.2 76.6L101.5 77.9L103.4 77.9 M17.3 192.7L15.4 196.0L12.0 196.0L9.1 196.5L5.3 197.5L2.1 196.9L1.6 192.7L0.2 190.5L-0.9 188.9L1.6 184.2 M12.9 189.3L12.4 193.7L12.0 196.0 M6.9 188.9L6.3 193.7L9.1 196.5 M14.1 268.3L13.9 265.6L9.9 261.8L6.1 260.5L9.5 256.1L13.3 253.8L13.7 251.8L11.8 250.6L12.4 247.2L10.1 247.0L9.5 243.7L5.5 243.3L5.7 239.5L5.0 238.7L6.3 235.0L4.6 233.5L4.8 231.7L1.2 231.7L0.6 226.8 M11.8 250.6L9.5 254.4L4.2 254.0L6.1 250.4L1.6 247.2 M6.1 260.5L5.0 264.4L4.6 268.7" fill="none" stroke="#a888b0" stroke-opacity="0.3" stroke-width="0.7" stroke-linejoin="round"/>
<circle cx="6.0" cy="270.0" r="9.9" fill="#999999" fill-opacity="0.5"/><circle cx="6.0" cy="270.0" r="8.3" fill="#999999" fill-opacity="0.8"/>
<circle cx="250.0" cy="89.0" r="9.9" fill="#00e400" fill-opacity="0.5"/><circle cx="250.0" cy="89.0" r="8.3" fill="#00e400" fill-opacity="0.8"/>
<circle cx="318.3" cy="97.4" r="9.9" fill="#ff0000" fill-opacity="0.5"/><circle cx="318.3" cy="97.4" r="8.3" fill="#ff0000" fill-opacity="0.8"/>
<circle cx="156.0" cy="110.6" r="9.9" fill="#ffff00" fill-opacity="0.5"/><circle cx="156.0" cy="110.6" r="8.3" fill="#ffff00" fill-opacity="0.8"/>
<circle cx="147.4" cy="106.3" r="9.9" fill="#ff7e00" fill-opacity="0.5"/><circle cx="147.4" cy="106.3" r="8.3" fill="#ff7e00" fill-opacity="0.8"/>
<circle cx="120.7" cy="125.4" r="9.9" fill="#999999" fill-opacity="0.5"/><circle cx="120.7" cy="125.4" r="8.3" fill="#999999" fill-opacity="0.8"/>
<circle cx="226.1" cy="122.6" r="9.9" fill="#ffff00" fill-opacity="0.5"/><circle cx="226.1" cy="122.6" r="8.3" fill="#ffff00" fill-opacity="0.8"/>
<circle cx="183.4" cy="136.1" r="9.9" fill="#999999" fill-opacity="0.5"/><circle cx="183.4" cy="136.1" r="8.3" fill="#999999" fill-opacity="0.8"/>
<circle cx="207.0" cy="144.0" r="9.9" fill="#ff7e00" fill-opacity="0.5"/><circle cx="207.0" cy="144.0" r="8.3" fill="#ff7e00" fill-opacity="0.8"/>
<circle cx="207.3" cy="142.0" r="9.9" fill="#ff0000" fill-opacity="0.5"/><circle cx="207.3" cy="142.0" r="8.3" fill="#ff0000" fill-opacity="0.8"/>
<circle cx="211.5" cy="148.0" r="9.9" fill="#999999" fill-opacity="0.5"/><circle cx="211.5" cy="148.0" r="8.3" fill="#999999" fill-opacity="0.8"/>
<circle cx="205.0" cy="146.0" r="9.9" fill="#ffff00" fill-opacity="0.5"/><circle cx="205.0" cy="146.0" r="8.3" fill="#ffff00" fill-opacity="0.8"/>
<circle cx="199.7" cy="132.6" r="9.9" fill="#ffff00" fill-opacity="0.5"/><circle cx="199.7" cy="132.6" r="8.3" fill="#ffff00" fill-opacity="0.8"/>
<circle cx="203.0" cy="153.0" r="9.9" fill="#ffff00" fill-opacity="0.5"/><circle cx="203.0" cy="153.0" r="8.3" fill="#ffff00" fill-opacity="0.8"/>
<circle cx="219.0" cy="152.0" r="9.9" fill="#00e400" fill-opacity="0.5"/><circle cx="219.0" cy="152.0" r="8.3" fill="#00e400" fill-opacity="0.8"/>
<circle cx="220.0" cy="150.5" r="9.9" fill="#ffff00" fill-opacity="0.5"/><circle cx="220.0" cy="150.5" r="8.3" fill="#ffff00" fill-opacity="0.8"/>
<circle cx="189.5" cy="158.3" r="9.9" fill="#ff7e00" fill-opacity="0.5"/><circle cx="189.5" cy="158.3" r="8.3" fill="#ff7e00" fill-opacity="0.8"/>
<circle cx="176.7" cy="170.3" r="9.9" fill="#ffff00" fill-opacity="0.5"/><circle cx="176.7" cy="170.3" r="8.3" fill="#ffff00" fill-opacity="0.8"/>
<circle cx="188.8" cy="182.5" r="9.9" fill="#ffff00" fill-opacity="0.5"/><circle cx="188.8" cy="182.5" r="8.3" fill="#ffff00" fill-opacity="0.8"/>
<circle cx="176.2" cy="199.4" r="9.9" fill="#ffff00" fill-opacity="0.5"/><circle cx="176.2" cy="199.4" r="8.3" fill="#ffff00" fill-opacity="0.8"/>
<circle cx="184.7" cy="202.3" r="9.9" fill="#00e400" fill-opacity="0.5"/><circle cx="184.7" cy="202.3" r="8.3" fill="#00e400" fill-opacity="0.8"/>
<circle cx="205.7" cy="236.0" r="9.9" fill="#00e400" fill-opacity="0.5"/><circle cx="205.7" cy="236.0" r="8.3" fill="#00e400" fill-opacity="0.8"/>
<circle cx="99.6" cy="176.3" r="9.9" fill="#ff0000" fill-opacity="0.5"/><circle cx="99.6" cy="176.3" r="8.3" fill="#ff0000" fill-opacity="0.8"/>
<circle cx="89.6" cy="182.0" r="9.9" fill="#999999" fill-opacity="0.5"/><circle cx="89.6" cy="182.0" r="8.3" fill="#999999" fill-opacity="0.8"/>
<circle cx="106.0" cy="189.5" r="9.9" fill="#ffff00" fill-opacity="0.5"/><circle cx="106.0" cy="189.5" r="8.3" fill="#ffff00" fill-opacity="0.8"/>
<circle cx="113.0" cy="190.0" r="9.9" fill="#ffff00" fill-opacity="0.5"/><circle cx="113.0" cy="190.0" r="8.3" fill="#ffff00" fill-opacity="0.8"/>
<circle cx="129.0" cy="182.6" r="9.9" fill="#ffff00" fill-opacity="0.5"/><circle cx="129.0" cy="182.6" r="8.3" fill="#ffff00" fill-opacity="0.8"/>
<circle cx="132.5" cy="200.0" r="9.9" fill="#ffff00" fill-opacity="0.5"/><circle cx="132.5" cy="200.0" r="8.3" fill="#ffff00" fill-opacity="0.8"/>
<circle cx="122.0" cy="188.8" r="9.9" fill="#999999" fill-opacity="0.5"/><circle cx="122.0" cy="188.8" r="8.3" fill="#999999" fill-opacity="0.8"/>
<circle cx="144.0" cy="177.0" r="9.9" fill="#ff0000" fill-opacity="0.5"/><circle cx="144.0" cy="177.0" r="8.3" fill="#ff0000" fill-opacity="0.8"/>
<circle cx="246.0" cy="115.0" r="9.9" fill="#ff0000" fill-opacity="0.5"/><circle cx="246.0" cy="115.0" r="8.3" fill="#ff0000" fill-opacity="0.8"/>
<circle cx="257.0" cy="109.8" r="9.9" fill="#ff0000" fill-opacity="0.5"/><circle cx="257.0" cy="109.8" r="8.3" fill="#ff0000" fill-opacity="0.8"/>
<circle cx="261.5" cy="109.8" r="9.9" fill="#ff0000" fill-opacity="0.5"/><circle cx="261.5" cy="109.8" r="8.3" fill="#ff0000" fill-opacity="0.8"/>
<circle cx="246.0" cy="121.0" r="9.9" fill="#ff0000" fill-opacity="0.5"/><circle cx="246.0" cy="121.0" r="8.3" fill="#ff0000" fill-opacity="0.8"/>
<circle cx="252.0" cy="132.0" r="9.9" fill="#999999" fill-opacity="0.5"/><circle cx="252.0" cy="132.0" r="8.3" fill="#999999" fill-opacity="0.8"/>
<circle cx="262.0" cy="144.5" r="9.9" fill="#ff0000" fill-opacity="0.5"/><circle cx="262.0" cy="144.5" r="8.3" fill="#ff0000" fill-opacity="0.8"/>
<circle cx="257.0" cy="137.5" r="9.9" fill="#999999" fill-opacity="0.5"/><circle cx="257.0" cy="137.5" r="8.3" fill="#999999" fill-opacity="0.8"/>
<circle cx="277.4" cy="145.8" r="9.9" fill="#ffff00" fill-opacity="0.5"/><circle cx="277.4" cy="145.8" r="8.3" fill="#ffff00" fill-opacity="0.8"/>
<circle cx="242.9" cy="151.4" r="9.9" fill="#999999" fill-opacity="0.5"/><circle cx="242.9" cy="151.4" r="8.3" fill="#999999" fill-opacity="0.8"/>
<circle cx="289.3" cy="152.5" r="9.9" fill="#ff0000" fill-opacity="0.5"/><circle cx="289.3" cy="152.5" r="8.3" fill="#ff0000" fill-opacity="0.8"/>
<circle cx="281.7" cy="158.0" r="9.9" fill="#902a80" fill-opacity="0.5"/><circle cx="281.7" cy="158.0" r="8.3" fill="#902a80" fill-opacity="0.8"/>
<circle cx="253.5" cy="164.0" r="9.9" fill="#ffff00" fill-opacity="0.5"/><circle cx="253.5" cy="164.0" r="8.3" fill="#ffff00" fill-opacity="0.8"/>
<circle cx="263.8" cy="165.9" r="9.9" fill="#ff0000" fill-opacity="0.5"/><circle cx="263.8" cy="165.9" r="8.3" fill="#ff0000" fill-opacity="0.8"/>
<circle cx="268.4" cy="174.4" r="9.9" fill="#ff0000" fill-opacity="0.5"/><circle cx="268.4" cy="174.4" r="8.3" fill="#ff0000" fill-opacity="0.8"/>
<circle cx="266.8" cy="187.5" r="9.9" fill="#999999" fill-opacity="0.5"/><circle cx="266.8" cy="187.5" r="8.3" fill="#999999" fill-opacity="0.8"/>
<circle cx="316.0" cy="159.5" r="9.9" fill="#ff7e00" fill-opacity="0.5"/><circle cx="316.0" cy="159.5" r="8.3" fill="#ff7e00" fill-opacity="0.8"/>
<circle cx="297.8" cy="167.4" r="9.9" fill="#ffff00" fill-opacity="0.5"/><circle cx="297.8" cy="167.4" r="8.3" fill="#ffff00" fill-opacity="0.8"/>
<circle cx="309.8" cy="165.3" r="9.9" fill="#ffff00" fill-opacity="0.5"/><circle cx="309.8" cy="165.3" r="8.3" fill="#ffff00" fill-opacity="0.8"/>
<circle cx="331.0" cy="154.8" r="9.9" fill="#999999" fill-opacity="0.5"/><circle cx="331.0" cy="154.8" r="8.3" fill="#999999" fill-opacity="0.8"/>
<circle cx="318.2" cy="179.5" r="9.9" fill="#ff7e00" fill-opacity="0.5"/><circle cx="318.2" cy="179.5" r="8.3" fill="#ff7e00" fill-opacity="0.8"/>
<circle cx="336.2" cy="117.8" r="9.9" fill="#ffff00" fill-opacity="0.5"/><circle cx="336.2" cy="117.8" r="8.3" fill="#ffff00" fill-opacity="0.8"/>
<circle cx="350.2" cy="113.2" r="9.9" fill="#ffff00" fill-opacity="0.5"/><circle cx="350.2" cy="113.2" r="8.3" fill="#ffff00" fill-opacity="0.8"/>
<circle cx="346.3" cy="138.0" r="9.9" fill="#ffff00" fill-opacity="0.5"/><circle cx="346.3" cy="138.0" r="8.3" fill="#ffff00" fill-opacity="0.8"/>
<circle cx="318.0" cy="211.9" r="9.9" fill="#ffff00" fill-opacity="0.5"/><circle cx="318.0" cy="211.9" r="8.3" fill="#ffff00" fill-opacity="0.8"/>
<text x="318.7" y="99.5" font-size="8" font-weight="bold" text-anchor="middle" fill="#222" stroke="#fff" stroke-width="2.6" stroke-opacity="0.9" stroke-linejoin="round" paint-order="stroke">161</text>
<text x="153.0" y="113.3" font-size="8" font-weight="bold" text-anchor="middle" fill="#222" stroke="#fff" stroke-width="2.6" stroke-opacity="0.9" stroke-linejoin="round" paint-order="stroke">101</text>
<text x="148.0" y="107.7" font-size="8" font-weight="bold" text-anchor="middle" fill="#222" stroke="#fff" stroke-width="2.6" stroke-opacity="0.9" stroke-linejoin="round" paint-order="stroke">146</text>
<text x="121.1" y="127.5" font-size="8" font-weight="bold" text-anchor="middle" fill="#222" stroke="#fff" stroke-width="2.6" stroke-opacity="0.9" stroke-linejoin="round" paint-order="stroke">N/A</text>
<text x="226.5" y="124.7" font-size="8" font-weight="bold" text-anchor="middle" fill="#222" stroke="#fff" stroke-width="2.6" stroke-opacity="0.9" stroke-linejoin="round" paint-order="stroke">62</text>
<text x="183.8" y="138.2" font-size="8" font-weight="bold" text-anchor="middle" fill="#222" stroke="#fff" stroke-width="2.6" stroke-opacity="0.9" stroke-linejoin="round" paint-order="stroke">N/A</text>
<text x="220.7" y="153.2" font-size="8" font-weight="bold" text-anchor="middle" fill="#222" stroke="#fff" stroke-width="2.6" stroke-opacity="0.9" stroke-linejoin="round" paint-order="stroke">57</text>
<text x="210.6" y="151.4" font-size="8" font-weight="bold" text-anchor="middle" fill="#222" stroke="#fff" stroke-width="2.6" stroke-opacity="0.9" stroke-linejoin="round" paint-order="stroke">N/A</text>
<text x="203.2" y="154.4" font-size="8" font-weight="bold" text-anchor="middle" fill="#222" stroke="#fff" stroke-width="2.6" stroke-opacity="0.9" stroke-linejoin="round" paint-order="stroke">67</text>
<text x="206.6" y="144.4" font-size="8" font-weight="bold" text-anchor="middle" fill="#222" stroke="#fff" stroke-width="2.6" stroke-opacity="0.9" stroke-linejoin="round" paint-order="stroke">152</text>
<text x="199.6" y="135.2" font-size="8" font-weight="bold" text-anchor="middle" fill="#222" stroke="#fff" stroke-width="2.6" stroke-opacity="0.9" stroke-linejoin="round" paint-order="stroke">85</text>
<text x="189.9" y="160.4" font-size="8" font-weight="bold" text-anchor="middle" fill="#222" stroke="#fff" stroke-width="2.6" stroke-opacity="0.9" stroke-linejoin="round" paint-order="stroke">140</text>
<text x="177.1" y="172.4" font-size="8" font-weight="bold" text-anchor="middle" fill="#222" stroke="#fff" stroke-width="2.6" stroke-opacity="0.9" stroke-linejoin="round" paint-order="stroke">75</text>
<text x="189.2" y="184.6" font-size="8" font-weight="bold" text-anchor="middle" fill="#222" stroke="#fff" stroke-width="2.6" stroke-opacity="0.9" stroke-linejoin="round" paint-order="stroke">74</text>
<text x="176.6" y="201.5" font-size="8" font-weight="bold" text-anchor="middle" fill="#222" stroke="#fff" stroke-width="2.6" stroke-opacity="0.9" stroke-linejoin="round" paint-order="stroke">55</text>
<text x="185.1" y="204.4" font-size="8" font-weight="bold" text-anchor="middle" fill="#222" stroke="#fff" stroke-width="2.6" stroke-opacity="0.9" stroke-linejoin="round" paint-order="stroke">41</text>
<text x="206.1" y="238.1" font-size="8" font-weight="bold" text-anchor="middle" fill="#222" stroke="#fff" stroke-width="2.6" stroke-opacity="0.9" stroke-linejoin="round" paint-order="stroke">38</text>
<text x="100.5" y="177.9" font-size="8" font-weight="bold" text-anchor="middle" fill="#222" stroke="#fff" stroke-width="2.6" stroke-opacity="0.9" stroke-linejoin="round" paint-order="stroke">154</text>
<text x="89.0" y="183.9" font-size="8" font-weight="bold" text-anchor="middle" fill="#222" stroke="#fff" stroke-width="2.6" stroke-opacity="0.9" stroke-linejoin="round" paint-order="stroke">N/A</text>
<text x="107.4" y="191.9" font-size="8" font-weight="bold" text-anchor="middle" fill="#222" stroke="#fff" stroke-width="2.6" stroke-opacity="0.9" stroke-linejoin="round" paint-order="stroke">85</text>
<text x="111.9" y="192.5" font-size="8" font-weight="bold" text-anchor="middle" fill="#222" stroke="#fff" stroke-width="2.6" stroke-opacity="0.9" stroke-linejoin="round" paint-order="stroke">55</text>
<text x="132.9" y="202.1" font-size="8" font-weight="bold" text-anchor="middle" fill="#222" stroke="#fff" stroke-width="2.6" stroke-opacity="0.9" stroke-linejoin="round" paint-order="stroke">61</text>
<text x="122.0" y="190.3" font-size="8" font-weight="bold" text-anchor="middle" fill="#222" stroke="#fff" stroke-width="2.6" stroke-opacity="0.9" stroke-linejoin="round" paint-order="stroke">N/A</text>
<text x="129.4" y="184.7" font-size="8" font-weight="bold" text-anchor="middle" fill="#222" stroke="#fff" stroke-width="2.6" stroke-opacity="0.9" stroke-linejoin="round" paint-order="stroke">56</text>
<text x="144.4" y="179.1" font-size="8" font-weight="bold" text-anchor="middle" fill="#222" stroke="#fff" stroke-width="2.6" stroke-opacity="0.9" stroke-linejoin="round" paint-order="stroke">167</text>
<text x="246.0" y="116.1" font-size="8" font-weight="bold" text-anchor="middle" fill="#222" stroke="#fff" stroke-width="2.6" stroke-opacity="0.9" stroke-linejoin="round" paint-order="stroke">193</text>
<text x="255.5" y="112.1" font-size="8" font-weight="bold" text-anchor="middle" fill="#222" stroke="#fff" stroke-width="2.6" stroke-opacity="0.9" stroke-linejoin="round" paint-order="stroke">157</text>
<text x="261.6" y="112.1" font-size="8" font-weight="bold" text-anchor="middle" fill="#222" stroke="#fff" stroke-width="2.6" stroke-opacity="0.9" stroke-linejoin="round" paint-order="stroke">167</text>
<text x="245.9" y="122.9" font-size="8" font-weight="bold" text-anchor="middle" fill="#222" stroke="#fff" stroke-width="2.6" stroke-opacity="0.9" stroke-linejoin="round" paint-order="stroke">155</text>
<text x="251.9" y="134.6" font-size="8" font-weight="bold" text-anchor="middle" fill="#222" stroke="#fff" stroke-width="2.6" stroke-opacity="0.9" stroke-linejoin="round" paint-order="stroke">N/A</text>
<text x="262.0" y="146.5" font-size="8" font-weight="bold" text-anchor="middle" fill="#222" stroke="#fff" stroke-width="2.6" stroke-opacity="0.9" stroke-linejoin="round" paint-order="stroke">155</text>
<text x="257.0" y="139.7" font-size="8" font-weight="bold" text-anchor="middle" fill="#222" stroke="#fff" stroke-width="2.6" stroke-opacity="0.9" stroke-linejoin="round" paint-order="stroke">N/A</text>
<text x="277.8" y="147.9" font-size="8" font-weight="bold" text-anchor="middle" fill="#222" stroke="#fff" stroke-width="2.6" stroke-opacity="0.9" stroke-linejoin="round" paint-order="stroke">91</text>
<text x="243.3" y="153.5" font-size="8" font-weight="bold" text-anchor="middle" fill="#222" stroke="#fff" stroke-width="2.6" stroke-opacity="0.9" stroke-linejoin="round" paint-order="stroke">N/A</text>
<text x="288.5" y="156.7" font-size="8" font-weight="bold" text-anchor="middle" fill="#222" stroke="#fff" stroke-width="2.6" stroke-opacity="0.9" stroke-linejoin="round" paint-order="stroke">164</text>
<text x="282.5" y="159.3" font-size="8" font-weight="bold" text-anchor="middle" fill="#222" stroke="#fff" stroke-width="2.6" stroke-opacity="0.9" stroke-linejoin="round" paint-order="stroke">205</text>
<text x="253.2" y="166.2" font-size="8" font-weight="bold" text-anchor="middle" fill="#222" stroke="#fff" stroke-width="2.6" stroke-opacity="0.9" stroke-linejoin="round" paint-order="stroke">86</text>
<text x="264.6" y="169.1" font-size="8" font-weight="bold" text-anchor="middle" fill="#222" stroke="#fff" stroke-width="2.6" stroke-opacity="0.9" stroke-linejoin="round" paint-order="stroke">153</text>
<text x="268.0" y="177.1" font-size="8" font-weight="bold" text-anchor="middle" fill="#222" stroke="#fff" stroke-width="2.6" stroke-opacity="0.9" stroke-linejoin="round" paint-order="stroke">155</text>
<text x="267.2" y="188.9" font-size="8" font-weight="bold" text-anchor="middle" fill="#222" stroke="#fff" stroke-width="2.6" stroke-opacity="0.9" stroke-linejoin="round" paint-order="stroke">N/A</text>
<text x="316.6" y="162.1" font-size="8" font-weight="bold" text-anchor="middle" fill="#222" stroke="#fff" stroke-width="2.6" stroke-opacity="0.9" stroke-linejoin="round" paint-order="stroke">148</text>
<text x="298.2" y="169.5" font-size="8" font-weight="bold" text-anchor="middle" fill="#222" stroke="#fff" stroke-width="2.6" stroke-opacity="0.9" stroke-linejoin="round" paint-order="stroke">76</text>
<text x="310.2" y="167.4" font-size="8" font-weight="bold" text-anchor="middle" fill="#222" stroke="#fff" stroke-width="2.6" stroke-opacity="0.9" stroke-linejoin="round" paint-order="stroke">79</text>
<text x="331.4" y="156.9" font-size="8" font-weight="bold" text-anchor="middle" fill="#222" stroke="#fff" stroke-width="2.6" stroke-opacity="0.9" stroke-linejoin="round" paint-order="stroke">N/A</text>
<text x="318.6" y="181.6" font-size="8" font-weight="bold" text-anchor="middle" fill="#222" stroke="#fff" stroke-width="2.6" stroke-opacity="0.9" stroke-linejoin="round" paint-order="stroke">112</text>
<text x="336.6" y="119.9" font-size="8" font-weight="bold" text-anchor="middle" fill="#222" stroke="#fff" stroke-width="2.6" stroke-opacity="0.9" stroke-linejoin="round" paint-order="stroke">81</text>
<text x="350.6" y="115.3" font-size="8" font-weight="bold" text-anchor="middle" fill="#222" stroke="#fff" stroke-width="2.6" stroke-opacity="0.9" stroke-linejoin="round" paint-order="stroke">76</text>
<text x="346.7" y="140.1" font-size="8" font-weight="bold" text-anchor="middle" fill="#222" stroke="#fff" stroke-width="2.6" stroke-opacity="0.9" stroke-linejoin="round" paint-order="stroke">89</text>
<text x="318.4" y="214.0" font-size="8" font-weight="bold" text-anchor="middle" fill="#222" stroke="#fff" stroke-width="2.6" stroke-opacity="0.9" stroke-linejoin="round" paint-order="stroke">92</text>
</svg>
<div style="position:absolute;left:224px;top:1.7000000000000028px;width:106px;height:92.5px;background:#fff;border-radius:8px;box-shadow:0 2px 7px rgba(0,0,0,0.22)"></div>
<div style="position:absolute;left:251.99999999999997px;top:90.4px;width:7.8px;height:7.8px;background:#fff;transform:rotate(45deg);box-shadow:0 2px 7px rgba(0,0,0,0.22)"></div>
<div style="position:absolute;left:224px;top:61.7px;width:106px;height:32.5px;background:#fff;border-radius:0 0 8px 8px"></div>
<div style="position:absolute;left:224px;top:11.500000000000004px;width:106px;text-align:center;font-size:9.33px;line-height:10.6px;color:#222">Bishkek<br>2021-12-04 6:00 PM<br>(LT)</div>
<div style="position:absolute;left:234px;top:43px;width:86.5px;height:41px;background:#004b87"></div>
<div style="position:absolute;left:234.8px;top:63px;width:53.6px;height:20.2px;background:#fff;text-align:center;font-size:9.33px;line-height:18px;color:#444">PM2.5</div>
<div style="position:absolute;left:288.6px;top:63px;width:31px;height:20.2px;background:#ff0000;text-align:center;font-size:9.33px;line-height:18px;color:#fff;font-weight:bold">169</div>
<div style="position:absolute;left:234.8px;top:43px;width:53.6px;height:20px;text-align:center;font-size:9.33px;line-height:18px;color:#fff;font-weight:bold">Pollutant</div>
<div style="position:absolute;left:288.6px;top:43px;width:31px;height:20px;text-align:center;font-size:9.33px;line-height:18px;color:#fff;font-weight:bold">AQI</div></div>

<div class="abs bar" style="top:3px"><span style="top:4.6px">Select a City</span></div>
<div class="abs sel" style="top:27.5px"><span>Bishkek</span><i style="left:195.8px;top:-1px;font-size:11px">×</i><svg style="position:absolute;left:208.3px;top:7.9px" width="7" height="4"><path d="M0 0h6.6L3.3 3.6z" fill="#888"/></svg></div>
<div class="abs bar" style="top:66px;height:24px"><span style="top:6px">Select a Parameter</span></div>
<div class="abs sel" style="top:91px"><span>PM2.5</span><i style="left:195.8px;top:-1px;font-size:11px">×</i><svg style="position:absolute;left:208.3px;top:7.9px" width="7" height="4"><path d="M0 0h6.6L3.3 3.6z" fill="#888"/></svg></div>
<div id="cbox" class="abs"><b>Bishkek</b><svg style="position:absolute;left:191px;top:17px" width="23" height="23" viewBox="0 0 23 23"><rect width="23" height="23" fill="#ecae42"/>
<circle cx="5.3" cy="17.8" r="2.2" fill="#fff"/>
<path d="M3.2 10.4a9.5 9.5 0 0 1 9.5 9.5" fill="none" stroke="#fff" stroke-width="2.7"/>
<path d="M3.2 4.8a15.1 15.1 0 0 1 15.1 15.1" fill="none" stroke="#fff" stroke-width="2.7"/></svg></div>
<div id="note" class="abs"><span style="top:0">Note: Values above 500 are considered Beyond the AQI. Follow</span><span style="top:14px">recommendations for the Hazardous category. Additional information</span><span style="top:27px">on reducing exposure to extremely high levels of particle pollution is</span><span style="top:39.8px">available <a>here</a>.</span></div>

<div id="tab1" class="abs tab">AQI</div>
<div class="abs tab" style="left:76px;width:111px">Concentration</div>
<div class="abs tab" style="left:190px;width:91px">Historical</div>
<div id="tabline" class="abs"></div>
<div id="learn" class="abs">Learn more about how the Air Quality Index [AQI] is calculated from the EPA <a>here</a>.</div>

<div id="chart" class="abs"><svg width="533.5" height="218" viewBox="0 0 533.5 218" style="position:absolute;left:0;top:0" font-family="Liberation Sans, sans-serif">
<rect x="50.50" y="137.30" width="476.64" height="1" fill="#e6e6e6"/>
<rect x="50.50" y="113.10" width="476.64" height="1" fill="#e6e6e6"/>
<rect x="50.50" y="88.90" width="476.64" height="1" fill="#e6e6e6"/>
<rect x="50.50" y="64.70" width="476.64" height="1" fill="#e6e6e6"/>
<rect x="50.50" y="40.50" width="476.64" height="1" fill="#e6e6e6"/>
<rect x="55.40" y="144.58" width="10.3" height="17.42" fill="#ffff00" stroke="#333" stroke-opacity="0.75" stroke-width="0.8"/>
<rect x="75.26" y="144.09" width="10.3" height="17.91" fill="#ffff00" stroke="#333" stroke-opacity="0.75" stroke-width="0.8"/>
<rect x="95.12" y="143.37" width="10.3" height="18.63" fill="#ffff00" stroke="#333" stroke-opacity="0.75" stroke-width="0.8"/>
<rect x="114.98" y="145.30" width="10.3" height="16.70" fill="#ffff00" stroke="#333" stroke-opacity="0.75" stroke-width="0.8"/>
<rect x="134.84" y="140.22" width="10.3" height="21.78" fill="#ffff00" stroke="#333" stroke-opacity="0.75" stroke-width="0.8"/>
<rect x="154.70" y="134.17" width="10.3" height="27.83" fill="#ff7e00" stroke="#333" stroke-opacity="0.75" stroke-width="0.8"/>
<rect x="174.56" y="128.85" width="10.3" height="33.15" fill="#ff7e00" stroke="#333" stroke-opacity="0.75" stroke-width="0.8"/>
<rect x="194.42" y="127.39" width="10.3" height="34.61" fill="#ff7e00" stroke="#333" stroke-opacity="0.75" stroke-width="0.8"/>
<rect x="214.28" y="124.73" width="10.3" height="37.27" fill="#ff0000" stroke="#333" stroke-opacity="0.75" stroke-width="0.8"/>
<rect x="234.14" y="125.22" width="10.3" height="36.78" fill="#ff0000" stroke="#333" stroke-opacity="0.75" stroke-width="0.8"/>
<rect x="254.00" y="127.39" width="10.3" height="34.61" fill="#ff7e00" stroke="#333" stroke-opacity="0.75" stroke-width="0.8"/>
<rect x="273.86" y="128.85" width="10.3" height="33.15" fill="#ff7e00" stroke="#333" stroke-opacity="0.75" stroke-width="0.8"/>
<rect x="293.72" y="130.30" width="10.3" height="31.70" fill="#ff7e00" stroke="#333" stroke-opacity="0.75" stroke-width="0.8"/>
<rect x="313.58" y="126.18" width="10.3" height="35.82" fill="#ff7e00" stroke="#333" stroke-opacity="0.75" stroke-width="0.8"/>
<rect x="333.44" y="124.97" width="10.3" height="37.03" fill="#ff0000" stroke="#333" stroke-opacity="0.75" stroke-width="0.8"/>
<rect x="353.30" y="125.22" width="10.3" height="36.78" fill="#ff0000" stroke="#333" stroke-opacity="0.75" stroke-width="0.8"/>
<rect x="373.16" y="124.73" width="10.3" height="37.27" fill="#ff0000" stroke="#333" stroke-opacity="0.75" stroke-width="0.8"/>
<rect x="393.02" y="124.01" width="10.3" height="37.99" fill="#ff0000" stroke="#333" stroke-opacity="0.75" stroke-width="0.8"/>
<rect x="412.88" y="124.73" width="10.3" height="37.27" fill="#ff0000" stroke="#333" stroke-opacity="0.75" stroke-width="0.8"/>
<rect x="432.74" y="124.01" width="10.3" height="37.99" fill="#ff0000" stroke="#333" stroke-opacity="0.75" stroke-width="0.8"/>
<rect x="452.60" y="121.34" width="10.3" height="40.66" fill="#ff0000" stroke="#333" stroke-opacity="0.75" stroke-width="0.8"/>
<rect x="472.46" y="120.86" width="10.3" height="41.14" fill="#ff0000" stroke="#333" stroke-opacity="0.75" stroke-width="0.8"/>
<rect x="492.32" y="120.86" width="10.3" height="41.14" fill="#ff0000" stroke="#333" stroke-opacity="0.75" stroke-width="0.8"/>
<rect x="512.18" y="121.10" width="10.3" height="40.90" fill="#ff0000" stroke="#333" stroke-opacity="0.75" stroke-width="0.8"/>
<rect x="50.50" y="161.60" width="476.64" height="0.8" fill="#ccd6eb"/>
<rect x="50.10" y="162.00" width="0.8" height="6.5" fill="#ccd6eb"/>
<rect x="69.96" y="162.00" width="0.8" height="6.5" fill="#ccd6eb"/>
<rect x="89.82" y="162.00" width="0.8" height="6.5" fill="#ccd6eb"/>
<rect x="109.68" y="162.00" width="0.8" height="6.5" fill="#ccd6eb"/>
<rect x="129.54" y="162.00" width="0.8" height="6.5" fill="#ccd6eb"/>
<rect x="149.40" y="162.00" width="0.8" height="6.5" fill="#ccd6eb"/>
<rect x="169.26" y="162.00" width="0.8" height="6.5" fill="#ccd6eb"/>
<rect x="189.12" y="162.00" width="0.8" height="6.5" fill="#ccd6eb"/>
<rect x="208.98" y="162.00" width="0.8" height="6.5" fill="#ccd6eb"/>
<rect x="228.84" y="162.00" width="0.8" height="6.5" fill="#ccd6eb"/>
<rect x="248.70" y="162.00" width="0.8" height="6.5" fill="#ccd6eb"/>
<rect x="268.56" y="162.00" width="0.8" height="6.5" fill="#ccd6eb"/>
<rect x="288.42" y="162.00" width="0.8" height="6.5" fill="#ccd6eb"/>
<rect x="308.28" y="162.00" width="0.8" height="6.5" fill="#ccd6eb"/>
<rect x="328.14" y="162.00" width="0.8" height="6.5" fill="#ccd6eb"/>
<rect x="348.00" y="162.00" width="0.8" height="6.5" fill="#ccd6eb"/>
<rect x="367.86" y="162.00" width="0.8" height="6.5" fill="#ccd6eb"/>
<rect x="387.72" y="162.00" width="0.8" height="6.5" fill="#ccd6eb"/>
<rect x="407.58" y="162.00" width="0.8" height="6.5" fill="#ccd6eb"/>
<rect x="427.44" y="162.00" width="0.8" height="6.5" fill="#ccd6eb"/>
<rect x="447.30" y="162.00" width="0.8" height="6.5" fill="#ccd6eb"/>
<rect x="467.16" y="162.00" width="0.8" height="6.5" fill="#ccd6eb"/>
<rect x="487.02" y="162.00" width="0.8" height="6.5" fill="#ccd6eb"/>
<rect x="506.88" y="162.00" width="0.8" height="6.5" fill="#ccd6eb"/>
<rect x="526.74" y="162.00" width="0.8" height="6.5" fill="#ccd6eb"/>
<text x="39.8" y="164.20" font-size="7.4" text-anchor="end" fill="#111">0</text>
<text x="39.8" y="140.00" font-size="7.4" text-anchor="end" fill="#111">100</text>
<text x="39.8" y="115.80" font-size="7.4" text-anchor="end" fill="#111">200</text>
<text x="39.8" y="91.60" font-size="7.4" text-anchor="end" fill="#111">300</text>
<text x="39.8" y="67.40" font-size="7.4" text-anchor="end" fill="#111">400</text>
<text x="39.8" y="43.20" font-size="7.4" text-anchor="end" fill="#111">500</text>
<text transform="translate(19.3,98.30000000000001) rotate(-90)" font-size="8" text-anchor="middle" fill="#000">AQI</text>
<text x="267.5" y="15.5" font-size="12" text-anchor="middle" fill="#333" letter-spacing="0.27">Bishkek – PM2.5</text>
<text transform="translate(62.43,173.70) rotate(-45)" font-size="7.6" text-anchor="end" fill="#666" letter-spacing="0.1">7 PM</text>
<text transform="translate(82.29,173.70) rotate(-45)" font-size="7.6" text-anchor="end" fill="#666" letter-spacing="0.1">8 PM</text>
<text transform="translate(102.15,173.70) rotate(-45)" font-size="7.6" text-anchor="end" fill="#666" letter-spacing="0.1">9 PM</text>
<text transform="translate(122.01,173.70) rotate(-45)" font-size="7.6" text-anchor="end" fill="#666" letter-spacing="0.1">10 PM</text>
<text transform="translate(141.87,173.70) rotate(-45)" font-size="7.6" text-anchor="end" fill="#666" letter-spacing="0.1">11 PM</text>
<text transform="translate(161.73,173.70) rotate(-45)" font-size="7.6" text-anchor="end" fill="#666" letter-spacing="0.1">Dec 04, 2021 12 AM</text>
<text transform="translate(181.59,173.70) rotate(-45)" font-size="7.6" text-anchor="end" fill="#666" letter-spacing="0.1">1 AM</text>
<text transform="translate(201.45,173.70) rotate(-45)" font-size="7.6" text-anchor="end" fill="#666" letter-spacing="0.1">2 AM</text>
<text transform="translate(221.31,173.70) rotate(-45)" font-size="7.6" text-anchor="end" fill="#666" letter-spacing="0.1">3 AM</text>
<text transform="translate(241.17,173.70) rotate(-45)" font-size="7.6" text-anchor="end" fill="#666" letter-spacing="0.1">4 AM</text>
<text transform="translate(261.03,173.70) rotate(-45)" font-size="7.6" text-anchor="end" fill="#666" letter-spacing="0.1">5 AM</text>
<text transform="translate(280.89,173.70) rotate(-45)" font-size="7.6" text-anchor="end" fill="#666" letter-spacing="0.1">6 AM</text>
<text transform="translate(300.75,173.70) rotate(-45)" font-size="7.6" text-anchor="end" fill="#666" letter-spacing="0.1">7 AM</text>
<text transform="translate(320.61,173.70) rotate(-45)" font-size="7.6" text-anchor="end" fill="#666" letter-spacing="0.1">8 AM</text>
<text transform="translate(340.47,173.70) rotate(-45)" font-size="7.6" text-anchor="end" fill="#666" letter-spacing="0.1">9 AM</text>
<text transform="translate(360.33,173.70) rotate(-45)" font-size="7.6" text-anchor="end" fill="#666" letter-spacing="0.1">10 AM</text>
<text transform="translate(380.19,173.70) rotate(-45)" font-size="7.6" text-anchor="end" fill="#666" letter-spacing="0.1">11 AM</text>
<text transform="translate(400.05,173.70) rotate(-45)" font-size="7.6" text-anchor="end" fill="#666" letter-spacing="0.1">12 PM</text>
<text transform="translate(419.91,173.70) rotate(-45)" font-size="7.6" text-anchor="end" fill="#666" letter-spacing="0.1">1 PM</text>
<text transform="translate(439.77,173.70) rotate(-45)" font-size="7.6" text-anchor="end" fill="#666" letter-spacing="0.1">2 PM</text>
<text transform="translate(459.63,173.70) rotate(-45)" font-size="7.6" text-anchor="end" fill="#666" letter-spacing="0.1">3 PM</text>
<text transform="translate(479.49,173.70) rotate(-45)" font-size="7.6" text-anchor="end" fill="#666" letter-spacing="0.1">4 PM</text>
<text transform="translate(499.35,173.70) rotate(-45)" font-size="7.6" text-anchor="end" fill="#666" letter-spacing="0.1">5 PM</text>
<text transform="translate(519.21,173.70) rotate(-45)" font-size="7.6" text-anchor="end" fill="#666" letter-spacing="0.1">6 PM</text>
</svg></div>
<div id="cond" class="abs">
  <div class="h">
    <div style="position:absolute;left:0;width:100%;top:4.7px;font-size:10px;line-height:12px">Current Conditions</div>
    <div style="position:absolute;left:0;width:100%;top:20.5px;font-size:8px;line-height:10px">observed at</div>
    <div style="position:absolute;left:0;width:100%;top:33.5px;font-size:10px;line-height:12px">Dec 4, 2021 6:00 PM (LT)</div>
  </div>
  <div class="r"><div style="position:absolute;left:0;width:100%;top:9.4px;line-height:19px">169 AQI<br>Unhealthy<br>PM2.5</div></div>
  <div style="position:absolute;left:0;width:100%;top:134.5px;text-align:center;font-weight:bold;font-size:8px;line-height:10px;color:#222">Health Message</div>
  <div style="position:absolute;left:3.1px;top:149.6px;font-size:8px;line-height:14.3px;color:#555;white-space:nowrap">Everyone may begin to experience health<br>effects when AQI values are between 151<br>and 200. Members of sensitive groups may<br>experience more serious health effects.</div>
</div>
</body>
</html>
